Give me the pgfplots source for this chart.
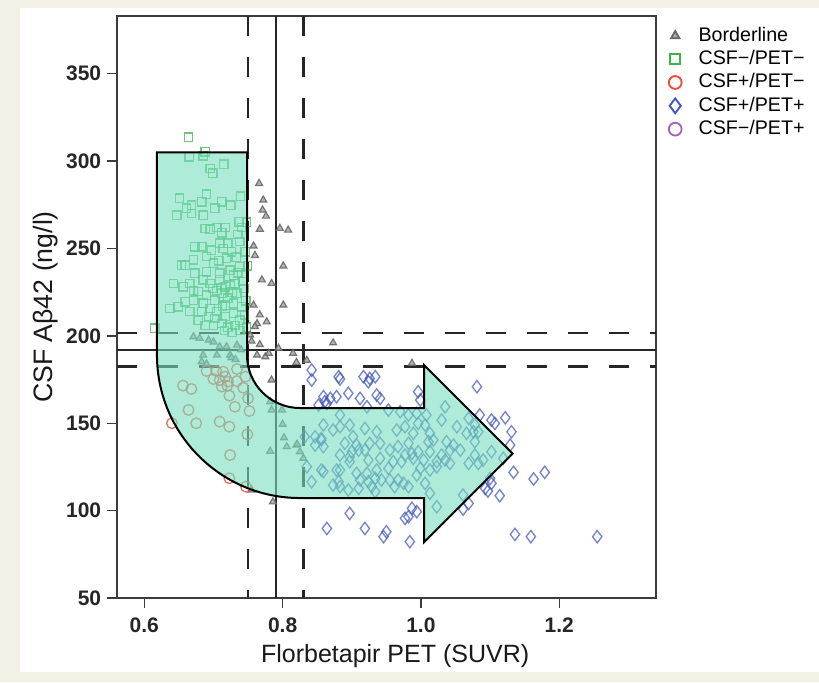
\documentclass[border=0pt]{standalone}
\usepackage{fontspec}
\setmainfont{Liberation Sans}
\usepackage{pgfplots}
\pgfplotsset{compat=1.18}

\definecolor{cream}{RGB}{243,240,230}
\definecolor{brdgray}{RGB}{105,105,105}
\definecolor{negneg}{RGB}{60,180,75}
\definecolor{posneg}{RGB}{235,75,55}
\definecolor{pospos}{RGB}{65,85,185}
\definecolor{negpos}{RGB}{160,100,190}
\definecolor{mint}{RGB}{120,222,192}
\definecolor{axgray}{RGB}{60,60,60}

\begin{document}
\begin{tikzpicture}[x=1pt,y=1pt]
\useasboundingbox (0,0) rectangle (491.4,409.2);
\fill[cream] (0,0) rectangle (491.4,409.2);
\fill[white] (12,6) rectangle (491.4,404.4);
\begin{axis}[
  at={(70.2pt,50.4pt)}, anchor=south west,
  scale only axis, width=323.4pt, height=349.2pt,
  xmin=0.5605, xmax=1.34, ymin=50, ymax=383,
  axis line style={axgray, line width=0.9pt},
  tick style={axgray, line width=0.8pt},
  tick align=outside, major tick length=6pt,
  xtick pos=bottom, ytick pos=left,
  xtick={0.6,0.8,1.0,1.2}, ytick={50,100,150,200,250,300,350},
  xticklabel style={yshift=-2.5pt, /pgf/number format/.cd, fixed, fixed zerofill, precision=1},
  /pgf/number format/assume math mode=true,
  ticklabel style={font=\fontsize{12.6}{14}\selectfont\bfseries, text=black!85},
  xlabel={Florbetapir PET (SUVR)},
  ylabel={CSF Aβ42 (ng/l)},
  label style={text=black!90},
  xlabel style={font=\fontsize{15}{18}\selectfont, at={(axis description cs:0.516,0)}, anchor=north, yshift=-24.5pt},
  ylabel style={font=\fontsize{16}{19}\selectfont, at={(axis description cs:0,0.5)}, anchor=south, yshift=32pt},
  legend style={at={(axis description cs:1.001,0.9916)}, anchor=north west,
    draw=none, fill=none, font=\fontsize{11.8}{14}\selectfont,
    row sep=0.5pt, nodes={inner sep=1pt, text height=9pt, text depth=2.5pt}},
  legend cell align=left,
  legend image code/.code={\path[draw=none, fill=none] (0pt,-3pt) rectangle (21pt,3pt);
    \draw[mark repeat=2,mark phase=2,#1] plot coordinates {(0pt,0pt) (8pt,0pt) (16pt,0pt)};},
  legend image post style={mark options={scale=1.2, line width=1.1pt}, opacity=1},
]
% cut-off (solid) and borderline zones (dashed)
\addplot[forget plot, black!85, line width=1.2pt] coordinates {(0.79,50) (0.79,383)};
\addplot[forget plot, black!85, line width=1.5pt, dash pattern=on 12pt off 12.6pt] coordinates {(0.75,383) (0.75,50)};
\addplot[forget plot, black!85, line width=1.5pt, dash pattern=on 12pt off 12.6pt] coordinates {(0.83,383) (0.83,50)};
\addplot[forget plot, black!85, line width=1.2pt] coordinates {(0.5605,192) (1.34,192)};
\addplot[forget plot, black!85, line width=1.5pt, dash pattern=on 12pt off 12.6pt] coordinates {(0.5605,201.6) (1.34,201.6)};
\addplot[forget plot, black!85, line width=1.5pt, dash pattern=on 12pt off 12.6pt] coordinates {(0.5605,182.4) (1.34,182.4)};

% Borderline
\addplot[only marks, mark=triangle*, mark size=2.4pt, draw=brdgray, fill=brdgray!55, line width=0.7pt, opacity=0.9] table {
0.766 287.2
0.772 277.7
0.771 272.0
0.776 268.5
0.767 261.0
0.796 261.5
0.808 260.5
0.758 251.4
0.760 246.0
0.801 240.0
0.770 232.0
0.784 230.0
0.758 217.6
0.801 217.6
0.767 212.0
0.777 208.0
0.763 207.0
0.760 205.3
0.753 200.5
0.671 199.5
0.680 198.6
0.693 197.6
0.700 196.5
0.709 193.8
0.719 193.8
0.734 194.7
0.740 192.0
0.685 189.0
0.705 189.0
0.724 189.0
0.763 189.0
0.775 188.0
0.780 190.0
0.794 192.9
0.835 186.0
0.683 185.2
0.726 187.5
0.732 186.5
0.784 174.7
0.782 162.3
0.799 157.6
0.784 157.6
0.800 149.4
0.802 141.7
0.782 134.0
0.806 136.6
0.820 137.5
0.825 133.7
0.830 130.0
0.755 111.8
0.786 105.0
0.820 184.8
0.987 184.3
0.873 196.0
0.821 138.0
0.815 190.0
0.767 195.0
0.755 197.0
0.690 184.0
};
\addlegendentry{Borderline}

% CSF-/PET-
\addplot[only marks, mark=square, mark size=2.5pt, draw=negneg, line width=0.8pt, opacity=0.75] table {
0.664 313.6
0.688 305.3
0.685 303.0
0.665 302.5
0.715 298.3
0.695 295.8
0.699 293.0
0.651 278.7
0.661 273.0
0.668 274.8
0.683 276.7
0.690 281.0
0.712 276.7
0.725 274.8
0.739 280.0
0.647 269.0
0.685 269.0
0.702 273.0
0.668 270.0
0.737 265.3
0.741 262.0
0.735 258.0
0.688 261.5
0.695 261.0
0.705 262.0
0.712 259.0
0.717 262.0
0.673 251.0
0.683 251.0
0.709 253.0
0.738 254.0
0.654 240.5
0.659 240.5
0.671 243.4
0.690 245.3
0.700 241.5
0.719 244.4
0.724 237.6
0.738 239.5
0.673 235.8
0.642 230.0
0.656 228.0
0.666 230.0
0.685 232.0
0.695 230.0
0.709 232.0
0.717 228.0
0.731 230.0
0.743 231.0
0.637 215.7
0.649 216.6
0.659 219.5
0.671 220.5
0.678 225.3
0.690 223.3
0.702 220.5
0.712 224.4
0.721 221.5
0.734 224.4
0.741 216.6
0.666 214.0
0.683 214.0
0.693 211.0
0.705 214.0
0.717 211.0
0.729 213.0
0.738 209.0
0.678 209.0
0.700 206.0
0.712 207.0
0.721 205.0
0.731 206.0
0.615 204.3
0.745 212.0
0.709 235.8
0.690 236.7
0.729 234.8
0.671 226.0
0.705 226.0
0.685 218.6
0.717 217.6
0.729 218.6
0.695 215.7
0.738 203.0
0.748 265.0
0.746 248.0
0.749 240.0
0.747 220.0
0.744 227.0
0.726 248.0
0.714 250.0
0.697 249.0
0.721 253.0
0.733 245.0
0.727 225.0
0.699 227.0
0.713 217.0
0.724 229.0
0.708 243.0
0.735 236.0
0.702 210.0
0.688 206.0
0.727 202.0
0.716 203.0
0.748 205.0
};
\addlegendentry{CSF−/PET−}

% CSF+/PET-
\addplot[only marks, mark=o, mark size=3.2pt, draw=posneg, line width=0.8pt, opacity=0.8] table {
0.656 171.5
0.668 169.6
0.664 157.6
0.675 150.0
0.640 150.0
0.690 179.9
0.704 179.9
0.714 179.5
0.700 175.3
0.709 174.7
0.717 176.6
0.721 173.8
0.712 171.0
0.720 171.5
0.734 181.0
0.746 176.6
0.734 174.1
0.743 170.3
0.723 165.8
0.750 164.2
0.731 159.4
0.752 157.0
0.709 150.9
0.723 148.0
0.749 143.6
0.724 131.8
0.723 118.5
0.747 113.7
};
\addlegendentry{CSF+/PET−}

% CSF+/PET+
\addplot[only marks, mark=diamond, mark size=3.7pt, draw=pospos, line width=0.8pt, opacity=0.72] table {
0.842 180.4
0.842 174.7
0.881 176.6
0.883 175.3
0.917 176.6
0.926 175.6
0.924 173.7
0.934 176.6
0.859 165.2
0.869 164.2
0.861 162.3
0.878 165.2
0.895 167.1
0.912 164.2
0.936 166.1
0.941 164.2
0.996 168.0
0.999 163.3
0.852 160.4
0.864 161.3
0.922 159.4
0.953 157.5
0.883 154.7
0.970 156.6
0.982 154.7
0.994 155.6
1.008 154.7
1.035 159.4
1.030 151.8
0.859 149.0
0.883 148.0
0.897 149.0
0.873 146.1
0.902 142.3
0.919 147.0
0.936 145.1
0.965 146.1
0.977 148.0
0.989 144.2
0.996 149.9
1.006 149.0
1.013 144.2
1.052 148.0
0.832 142.3
0.847 142.3
0.856 141.3
0.847 137.5
0.859 136.6
0.890 138.5
0.907 137.5
0.926 138.5
0.941 138.5
0.967 136.6
0.982 138.5
1.011 139.4
1.018 140.4
1.037 139.4
1.047 137.5
0.900 133.7
0.910 134.6
0.919 134.6
0.955 134.6
0.977 131.8
0.987 132.7
0.996 133.7
1.013 133.7
1.030 131.8
1.042 134.6
0.883 131.8
0.897 130.8
0.924 128.9
0.897 128.0
0.941 129.9
0.960 128.0
0.972 128.0
0.989 129.9
1.004 128.9
1.023 128.0
1.035 128.9
0.835 125.1
0.856 123.2
0.883 123.2
0.907 121.3
0.922 121.3
0.936 123.2
0.953 124.2
0.999 124.2
1.013 123.2
1.023 125.1
0.842 116.5
0.859 122.3
0.912 117.5
0.924 116.5
0.934 118.4
0.943 117.5
0.955 117.5
0.967 117.5
0.975 115.6
0.994 120.3
1.006 115.6
0.873 114.6
0.883 113.7
0.929 113.7
0.934 110.8
0.895 111.8
0.910 112.7
0.962 113.7
0.982 113.7
1.013 109.9
1.023 102.2
0.987 101.3
0.994 99.4
0.977 95.6
0.982 96.5
0.897 98.4
0.919 89.8
0.950 87.9
0.946 85.1
0.984 82.2
0.864 89.8
1.081 170.9
1.069 152.8
1.085 154.7
1.078 149.0
1.066 144.2
1.076 145.1
1.083 145.1
1.102 151.8
1.107 149.9
1.122 153.1
1.131 145.1
1.078 139.4
1.057 134.6
1.078 131.8
1.102 133.7
1.090 128.9
1.069 127.0
1.083 127.0
1.042 127.0
1.129 137.5
1.119 129.9
1.134 121.9
1.163 118.1
1.179 121.9
1.100 118.4
1.102 115.6
1.093 112.7
1.097 111.2
1.114 108.5
1.061 108.9
1.069 104.1
1.061 100.9
1.136 86.4
1.159 85.1
1.255 85.1
0.856 140.4
0.878 123.2
0.881 116.5
};
\addlegendentry{CSF+/PET+}

\addlegendimage{only marks, mark=o, mark size=3.2pt, draw=negpos, line width=0.8pt, opacity=0.8}
\addlegendentry{CSF−/PET+}

% corner points of the bent arrow, in data units
\coordinate (a1) at (axis cs:0.6183,305);
\coordinate (a2) at (axis cs:0.7485,305);
\coordinate (a3) at (axis cs:0.7485,189.0);
\coordinate (c1) at (axis cs:0.7485,172.27);
\coordinate (c2) at (axis cs:0.7828,158.7);
\coordinate (a4) at (axis cs:0.8251,158.7);
\coordinate (a5) at (axis cs:1.0045,158.7);
\coordinate (a6) at (axis cs:1.0045,183.3);
\coordinate (a7) at (axis cs:1.1327,132.6);
\coordinate (a8) at (axis cs:1.0045,81.9);
\coordinate (a9) at (axis cs:1.0045,107.2);
\coordinate (a10) at (axis cs:0.8251,107.2);
\coordinate (c3) at (axis cs:0.7109,107.2);
\coordinate (c4) at (axis cs:0.6183,143.82);
\coordinate (a11) at (axis cs:0.6183,189.0);
\end{axis}
% the arrow goes over the marks
\draw[black, line width=1.2pt, fill=mint, fill opacity=0.6, line join=miter]
  (a1) -- (a2) -- (a3) .. controls (c1) and (c2) .. (a4)
  -- (a5) -- (a6) -- (a7) -- (a8) -- (a9) -- (a10)
  .. controls (c3) and (c4) .. (a11) -- cycle;
\end{tikzpicture}
\end{document}
